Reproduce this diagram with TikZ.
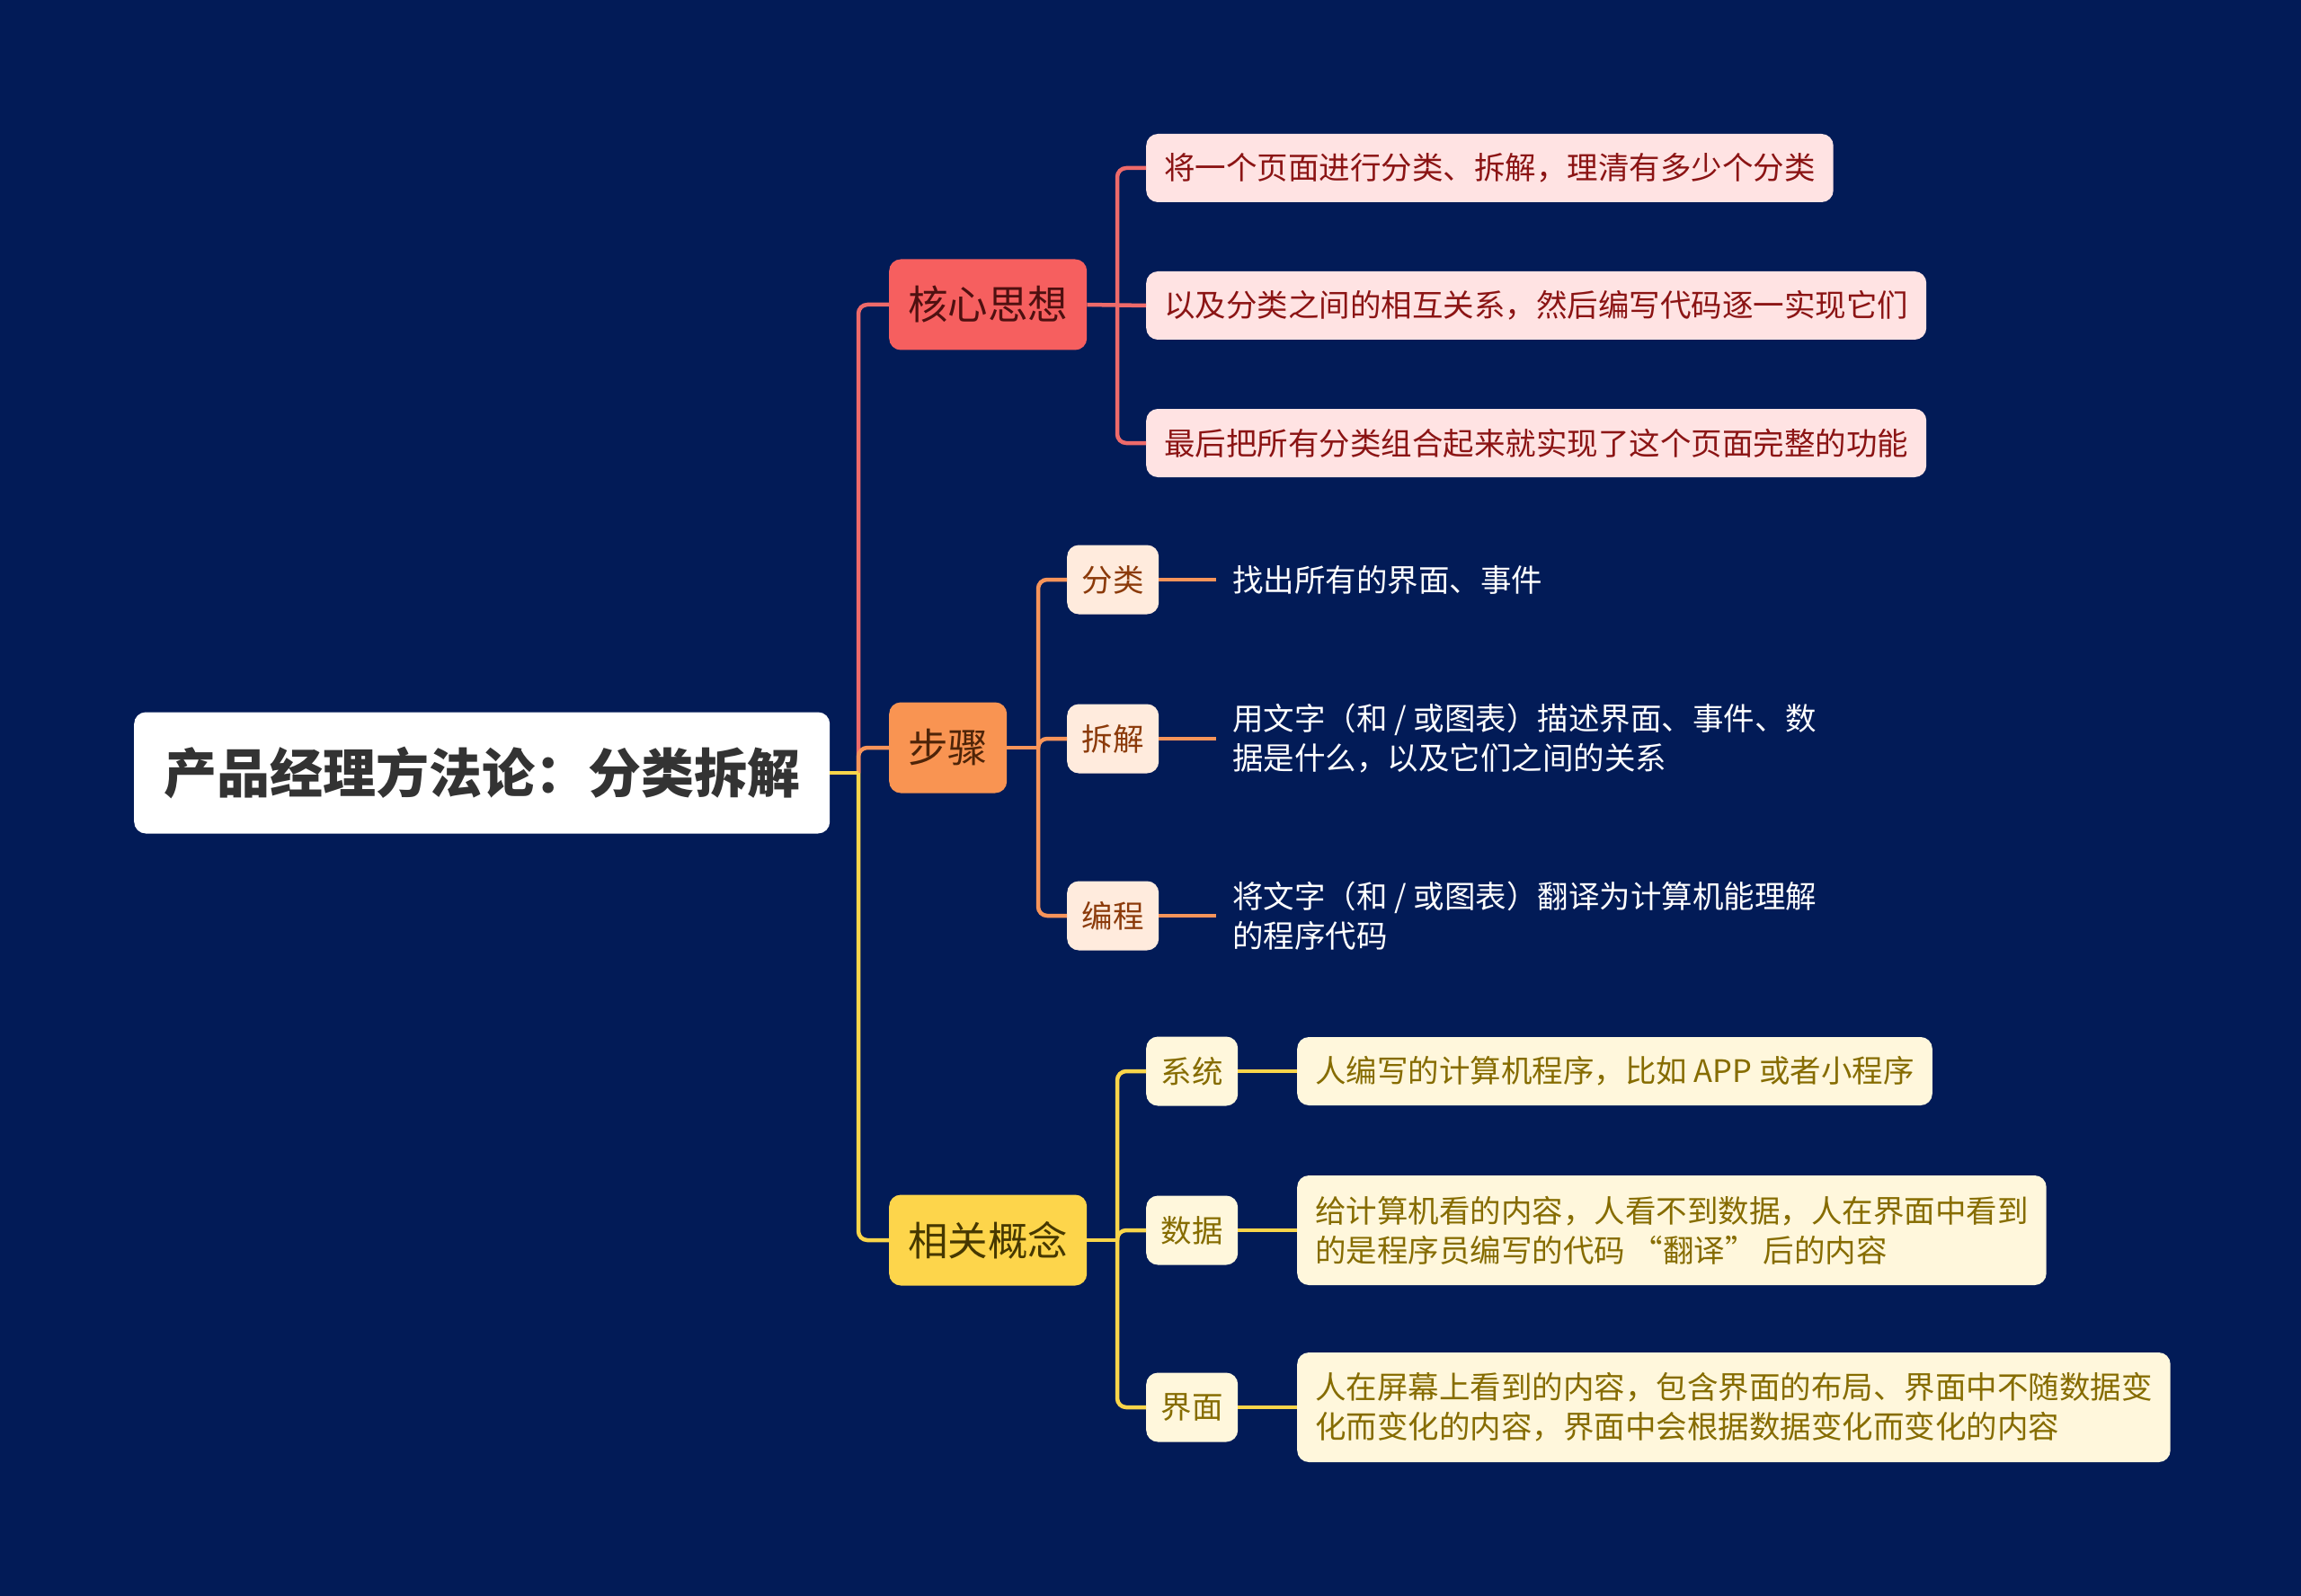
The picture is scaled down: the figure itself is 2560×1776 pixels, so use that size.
\documentclass[tikz,border=0pt]{standalone}
\usepackage{fontspec}
\setmainfont{Noto Sans CJK SC}
\begin{document}
\begin{tikzpicture}[x=1pt,y=-1pt]
\definecolor{bg}{HTML}{021B57}
\definecolor{redA}{HTML}{F65F5F}
\definecolor{redL}{HTML}{FFE3E3}
\definecolor{redT}{HTML}{8B1414}
\definecolor{redD}{HTML}{4E1010}
\definecolor{redLine}{HTML}{EE6A6A}
\definecolor{orA}{HTML}{F99452}
\definecolor{orL}{HTML}{FFEBDD}
\definecolor{orT}{HTML}{8B3A0A}
\definecolor{orD}{HTML}{4E2408}
\definecolor{orLine}{HTML}{F7945A}
\definecolor{yeA}{HTML}{FDD54B}
\definecolor{yeL}{HTML}{FFF7DC}
\definecolor{yeT}{HTML}{866C00}
\definecolor{yeD}{HTML}{463800}
\definecolor{yeLine}{HTML}{F9D54A}
\tikzset{
  box/.style={rounded corners=13pt, inner ysep=0pt, align=left, anchor=west},
  rootbox/.style={box, fill=white, text=black!80, inner xsep=33pt, minimum height=135pt, font=\fontsize{59}{70}\selectfont\bfseries},
  mainbox/.style={box, inner xsep=21pt, minimum height=101pt, font=\fontsize{44.5}{54}\selectfont},
  subbox/.style={box, inner xsep=16.5pt, minimum height=77pt, font=\fontsize{34.5}{44}\selectfont},
  leafbox/.style={box, inner xsep=20pt, minimum height=76pt, font=\fontsize{34.5}{44}\selectfont},
  leaftwo/.style={leafbox, minimum height=122pt},
  plain/.style={anchor=west, align=left, inner xsep=18pt, inner ysep=0pt, text=white, font=\fontsize{34.5}{44}\selectfont},
  conn/.style={line width=4.5pt},
  curvy/.style={line width=4.5pt, rounded corners=10pt},
}
\fill[bg] (0,0) rectangle (2560,1776);
\useasboundingbox (0,0) rectangle (2560,1776);

% nodes
\node[rootbox] (root) at (149,860) {产品经理方法论：分类拆解};
\node[mainbox, fill=redA, text=redD] (core) at (989,339) {核心思想};
\node[mainbox, fill=orA, text=orD] (steps) at (989,832) {步骤};
\node[mainbox, fill=yeA, text=yeD] (conc) at (989,1380) {相关概念};

\node[leafbox, fill=redL, text=redT] (c1) at (1275,187) {将一个页面进行分类、拆解，理清有多少个分类};
\node[leafbox, fill=redL, text=redT] (c2) at (1275,340) {以及分类之间的相互关系，然后编写代码逐一实现它们};
\node[leafbox, fill=redL, text=redT] (c3) at (1275,493) {最后把所有分类组合起来就实现了这个页面完整的功能};

\node[subbox, fill=orL, text=orT] (s1) at (1187,645) {分类};
\node[subbox, fill=orL, text=orT] (s2) at (1187,822) {拆解};
\node[subbox, fill=orL, text=orT] (s3) at (1187,1019) {编程};
\node[plain] (t1) at (1353,645) {找出所有的界面、事件};
\node[plain] (t2) at (1353,822) {用文字（和 / 或图表）描述界面、事件、数\\据是什么，以及它们之间的关系};
\node[plain] (t3) at (1353,1019) {将文字（和 / 或图表）翻译为计算机能理解\\的程序代码};

\node[subbox, fill=yeL, text=yeT] (k1) at (1275,1192) {系统};
\node[subbox, fill=yeL, text=yeT] (k2) at (1275,1369) {数据};
\node[subbox, fill=yeL, text=yeT] (k3) at (1275,1566) {界面};
\node[leafbox, fill=yeL, text=yeT] (d1) at (1443,1192) {人编写的计算机程序，比如 APP 或者小程序};
\node[leaftwo, fill=yeL, text=yeT] (d2) at (1443,1369) {给计算机看的内容，人看不到数据，人在界面中看到\\的是程序员编写的代码 “翻译” 后的内容};
\node[leaftwo, fill=yeL, text=yeT] (d3) at (1443,1566) {人在屏幕上看到的内容，包含界面的布局、界面中不随数据变\\化而变化的内容，界面中会根据数据变化而变化的内容};

% trunk coordinates
\coordinate (rt) at (955,860);
\coordinate (ct) at (1243,339);
\coordinate (st) at (1155,832);
\coordinate (kt) at (1243,1380);

% connectors
\draw[curvy, redLine] (rt) |- (core.west);
\draw[curvy, orLine] (rt) |- (steps.west);
\draw[curvy, yeLine] (rt) |- (conc.west);
\draw[conn, yeLine] (root.east) -- (rt);

\draw[curvy, redLine] (ct) |- (c1.west);
\draw[curvy, redLine] (ct) |- (c3.west);
\draw[conn, redLine] (core.east) -- (c2.west);

\draw[curvy, orLine] (st) |- (s1.west);
\draw[curvy, orLine] (st) |- (s3.west);
\draw[curvy, orLine] (st) |- (s2.west);
\draw[conn, orLine] (steps.east) -- (st);
\draw[conn, orLine] (s1.east) -- (t1.west);
\draw[conn, orLine] (s2.east) -- (t2.west);
\draw[conn, orLine] (s3.east) -- (t3.west);

\draw[curvy, yeLine] (kt) |- (k1.west);
\draw[curvy, yeLine] (kt) |- (k3.west);
\draw[curvy, yeLine] (kt) |- (k2.west);
\draw[conn, yeLine] (conc.east) -- (kt);
\draw[conn, yeLine] (k1.east) -- (d1.west);
\draw[conn, yeLine] (k2.east) -- (d2.west);
\draw[conn, yeLine] (k3.east) -- (d3.west);
\end{tikzpicture}
\end{document}
